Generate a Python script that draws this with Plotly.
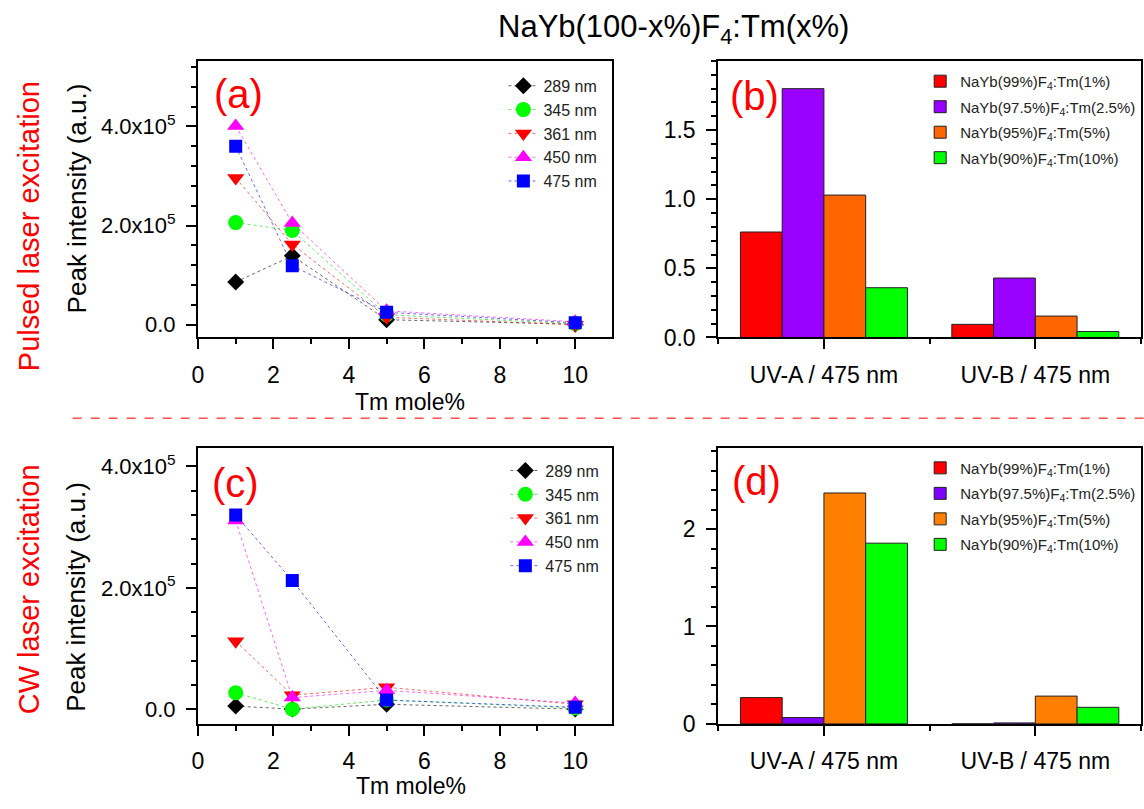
import plotly.graph_objects as go

W, H = 1144, 809
FONT = "Arial, Liberation Sans, sans-serif"

# ---------------- data ----------------
tm_mole = [1, 2.5, 5, 10]
wavelengths = ["289 nm", "345 nm", "361 nm", "450 nm", "475 nm"]

# (a) pulsed laser excitation, peak intensity (a.u.)
pulsed_289 = [0.86e5, 1.39e5, 0.10e5, 0.01e5]
pulsed_345 = [2.06e5, 1.90e5, 0.20e5, 0.02e5]
pulsed_361 = [2.96e5, 1.62e5, 0.15e5, 0.00e5]
pulsed_450 = [4.01e5, 2.05e5, 0.28e5, 0.06e5]
pulsed_475 = [3.60e5, 1.19e5, 0.25e5, 0.04e5]

# (c) CW laser excitation
cw_289 = [0.05e5, 0.00e5, 0.08e5, 0.00e5]
cw_345 = [0.27e5, 0.00e5, 0.15e5, 0.02e5]
cw_361 = [1.12e5, 0.23e5, 0.36e5, 0.08e5]
cw_450 = [3.11e5, 0.19e5, 0.31e5, 0.10e5]
cw_475 = [3.20e5, 2.12e5, 0.15e5, 0.03e5]

ratio_categories = ["UV-A / 475 nm", "UV-B / 475 nm"]
samples = ["NaYb(99%)F<sub>4</sub>:Tm(1%)", "NaYb(97.5%)F<sub>4</sub>:Tm(2.5%)",
           "NaYb(95%)F<sub>4</sub>:Tm(5%)", "NaYb(90%)F<sub>4</sub>:Tm(10%)"]

# (b) pulsed ratios
pulsed_ratio_1 = [0.763, 0.095]
pulsed_ratio_25 = [1.80, 0.43]
pulsed_ratio_5 = [1.03, 0.155]
pulsed_ratio_10 = [0.36, 0.043]

# (d) CW ratios
cw_ratio_1 = [0.27, 0.0]
cw_ratio_25 = [0.065, 0.01]
cw_ratio_5 = [2.37, 0.285]
cw_ratio_10 = [1.855, 0.17]

y_ticks_int = [0, 2e5, 4e5]
y_ticktext_int = ["0.0", "2.0x10<sup>5</sup>", "4.0x10<sup>5</sup>"]

# ---------------- styles ----------------
sc_colors = ["#000000", "#00FF00", "#FF0000", "#FF00FF", "#0000FF"]
sc_lines = ["rgba(0,0,0,0.6)", "rgba(0,220,0,0.6)", "rgba(255,0,0,0.6)",
            "rgba(255,0,255,0.6)", "rgba(0,0,255,0.6)"]
sc_symbols = ["diamond", "circle", "triangle-down", "triangle-up", "square"]
sc_sizes = [13, 15, 15, 15, 13]
bar_colors_b = ["#FF0000", "#9900FF", "#FF6600", "#00FF00"]
bar_colors_d = ["#FF0000", "#7F00FF", "#FF8000", "#00FF00"]

fig = go.Figure()

pulsed = [pulsed_289, pulsed_345, pulsed_361, pulsed_450, pulsed_475]
cw = [cw_289, cw_345, cw_361, cw_450, cw_475]

for i, name in enumerate(wavelengths):
    fig.add_trace(go.Scatter(
        x=tm_mole, y=pulsed[i], name=name, mode="lines+markers",
        xaxis="x", yaxis="y", legend="legend",
        line=dict(color=sc_lines[i], width=1, dash="3px,3px"),
        marker=dict(symbol=sc_symbols[i], size=sc_sizes[i], color=sc_colors[i]),
    ))
for i, name in enumerate(wavelengths):
    fig.add_trace(go.Scatter(
        x=tm_mole, y=cw[i], name=name, mode="lines+markers",
        xaxis="x3", yaxis="y3", legend="legend3",
        line=dict(color=sc_lines[i], width=1, dash="3px,3px"),
        marker=dict(symbol=sc_symbols[i], size=sc_sizes[i], color=sc_colors[i]),
    ))

cat_x = list(range(len(ratio_categories)))
pulsed_r = [pulsed_ratio_1, pulsed_ratio_25, pulsed_ratio_5, pulsed_ratio_10]
cw_r = [cw_ratio_1, cw_ratio_25, cw_ratio_5, cw_ratio_10]
for i, s in enumerate(samples):
    fig.add_trace(go.Bar(
        x=cat_x, y=pulsed_r[i], name=s, xaxis="x2", yaxis="y2",
        legend="legend2", legendgroup="b%d" % i, offsetgroup=str(i),
        marker=dict(color=bar_colors_b[i], line=dict(color="#222222", width=1)),
    ))
for i, s in enumerate(samples):
    fig.add_trace(go.Bar(
        x=cat_x, y=cw_r[i], name=s, xaxis="x4", yaxis="y4",
        legend="legend4", legendgroup="d%d" % i, offsetgroup=str(i),
        marker=dict(color=bar_colors_d[i], line=dict(color="#222222", width=1)),
    ))

def px_x(p):
    return p / W

def px_y(p):
    return 1 - p / H

axis_common = dict(showline=True, linecolor="black", linewidth=2, mirror=True,
                   showgrid=False, zeroline=False, ticks="outside",
                   tickcolor="black", tickwidth=2, ticklen=10,
                   tickfont=dict(family=FONT, size=22, color="black"),
                   ticklabelstandoff=6)

dom_left = [px_x(193), px_x(609)]
dom_right = [px_x(716), px_x(1141)]
dom_top = [px_y(343), px_y(62)]
dom_bot = [px_y(735.7), px_y(455)]

def xnum(domain, anchor):
    return dict(axis_common, domain=domain, anchor=anchor, range=[0, 10.97],
                tickmode="linear", tick0=0, dtick=2,
                tickfont=dict(family=FONT, size=23, color="black"),
                minor=dict(ticks="outside", ticklen=5, tickcolor="black",
                           tickwidth=2, tickmode="linear", tick0=1, dtick=2))

def yint(domain, anchor, rng):
    return dict(axis_common, domain=domain, anchor=anchor, range=rng,
                tickmode="array", tickvals=y_ticks_int, ticktext=y_ticktext_int,
                minor=dict(ticks="outside", ticklen=5, tickcolor="black",
                           tickwidth=2, tickmode="linear", tick0=0, dtick=4e4))

def xcat(domain, anchor):
    return dict(axis_common, domain=domain, anchor=anchor, range=[-0.5, 1.5],
                tickmode="array", tickvals=cat_x, ticktext=ratio_categories,
                tickfont=dict(family=FONT, size=23, color="black"),
                minor=dict(ticks="outside", ticklen=5, tickcolor="black",
                           tickwidth=2, tickmode="linear", tick0=-0.5, dtick=1))

def yratio(domain, anchor, rng, tv, tt, mdt):
    return dict(axis_common, domain=domain, anchor=anchor, range=rng,
                tickmode="array", tickvals=tv, ticktext=tt,
                tickfont=dict(family=FONT, size=23, color="black"),
                minor=dict(ticks="outside", ticklen=5, tickcolor="black",
                           tickwidth=2, tickmode="linear", tick0=0, dtick=mdt))

legend_common = dict(bgcolor="rgba(0,0,0,0)", borderwidth=0, xanchor="left",
                     yanchor="top", itemsizing="trace")

fig.update_layout(
    width=W, height=H, margin=dict(l=0, r=0, t=0, b=0),
    paper_bgcolor="white", plot_bgcolor="white",
    font=dict(family=FONT, color="black"),
    barmode="group", bargap=0.21, bargroupgap=0,
    xaxis=xnum(dom_left, "y"),
    yaxis=yint(dom_top, "x", [-0.258e5, 5.32e5]),
    xaxis2=xcat(dom_right, "y2"),
    yaxis2=yratio(dom_top, "x2", [0, 2.0], [0, 0.5, 1.0, 1.5],
                  ["0.0", "0.5", "1.0", "1.5"], 0.1),
    xaxis3=xnum(dom_left, "y3"),
    yaxis3=yint(dom_bot, "x3", [-0.243e5, 4.31e5]),
    xaxis4=xcat(dom_right, "y4"),
    yaxis4=yratio(dom_bot, "x4", [0, 2.835], [0, 1, 2], ["0", "1", "2"], 0.2),
    legend=dict(legend_common, x=px_x(500), y=px_y(70),
                font=dict(family=FONT, size=16, color="#222222")),
    legend3=dict(legend_common, x=px_x(502), y=px_y(461),
                 font=dict(family=FONT, size=16, color="#222222")),
    legend2=dict(legend_common, x=px_x(919), y=px_y(66), tracegroupgap=3,
                 font=dict(family=FONT, size=15, color="#222222")),
    legend4=dict(legend_common, x=px_x(919), y=px_y(459), tracegroupgap=3,
                 font=dict(family=FONT, size=15, color="#222222")),
    showlegend=True,
)

annotations = [
    dict(text="NaYb(100-x%)F<sub>4</sub>:Tm(x%)", x=px_x(671), y=px_y(29),
         font=dict(size=31, color="black")),
    dict(text="(a)", x=px_x(234), y=px_y(96), font=dict(size=40, color="#FF0000")),
    dict(text="(b)", x=px_x(752), y=px_y(98), font=dict(size=40, color="#FF0000")),
    dict(text="(c)", x=px_x(231), y=px_y(491), font=dict(size=40, color="#FF0000")),
    dict(text="(d)", x=px_x(754), y=px_y(489), font=dict(size=40, color="#FF0000")),
    dict(text="Pulsed laser excitation", x=px_x(23), y=px_y(230), textangle=-90,
         font=dict(size=29, color="#FF0000")),
    dict(text="CW laser excitation", x=px_x(23), y=px_y(599), textangle=-90,
         font=dict(size=29, color="#FF0000")),
    dict(text="Peak intensity (a.u.)", x=px_x(71), y=px_y(202), textangle=-90,
         font=dict(size=26, color="black")),
    dict(text="Peak intensity (a.u.)", x=px_x(71), y=px_y(607), textangle=-90,
         font=dict(size=26, color="black")),
    dict(text="Tm mole%", x=px_x(406), y=px_y(409), font=dict(size=23, color="black")),
    dict(text="Tm mole%", x=px_x(407), y=px_y(799), font=dict(size=23, color="black")),
]
for a in annotations:
    a.update(xref="paper", yref="paper", showarrow=False, xanchor="center",
             yanchor="middle")
    a["font"]["family"] = FONT
fig.update_layout(annotations=annotations)

fig.add_shape(type="line", xref="paper", yref="paper",
              x0=px_x(67), x1=1.0, y0=px_y(425), y1=px_y(425),
              line=dict(color="#FF5050", width=1.5, dash="dash"))

fig.write_html(
    "out.html",
    config={"displayModeBar": False},
    post_script="document.body.style.margin='0px';"
                "document.body.style.padding='0px';"
                "document.body.style.overflow='hidden';",
)
